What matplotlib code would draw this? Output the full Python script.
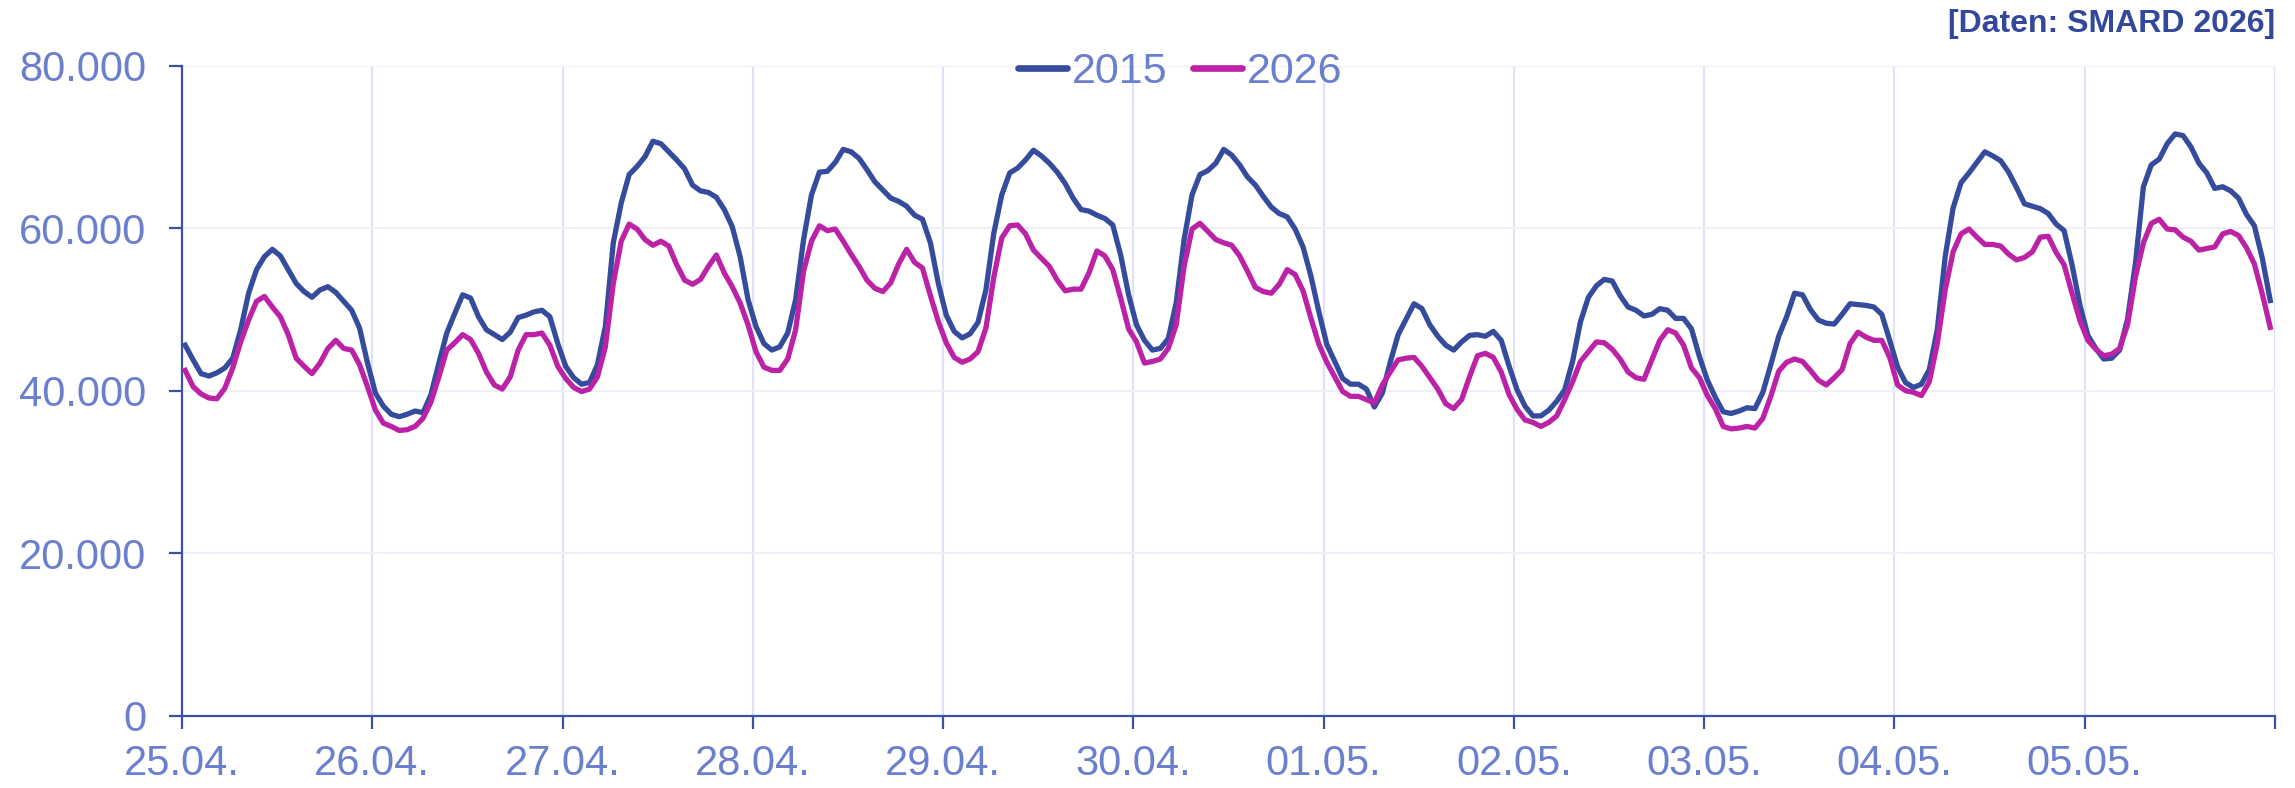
import matplotlib
matplotlib.use("Agg")
import matplotlib.pyplot as plt
from matplotlib.ticker import FuncFormatter, FixedLocator

# ---------------- data (hourly load, MW) ----------------
day_labels = ["25.04.", "26.04.", "27.04.", "28.04.", "29.04.", "30.04.",
              "01.05.", "02.05.", "03.05.", "04.05.", "05.05."]
series_names = ["2015", "2026"]

load_2015 = [
    45.6, 43.8, 42.1, 41.8, 42.2, 42.8, 44.0, 47.5, 52.0, 54.9, 56.5, 57.4, 56.6, 54.9, 53.2, 52.2, 51.5, 52.4, 52.8, 52.1, 51.0, 49.9, 47.7, 43.4,
    39.7, 38.1, 37.1, 36.8, 37.1, 37.5, 37.3, 39.5, 43.4, 47.1, 49.5, 51.8, 51.4, 49.1, 47.5, 46.9, 46.3, 47.2, 49.0, 49.3, 49.7, 49.9, 49.1, 45.8,
    43.0, 41.6, 40.8, 41.0, 43.2, 47.9, 58.2, 63.1, 66.6, 67.6, 68.8, 70.7, 70.4, 69.4, 68.4, 67.3, 65.3, 64.6, 64.4, 63.8, 62.3, 60.2, 56.5, 51.2,
    47.9, 45.8, 45.0, 45.4, 47.1, 51.2, 58.6, 64.1, 66.9, 67.0, 68.1, 69.7, 69.4, 68.6, 67.2, 65.7, 64.7, 63.7, 63.3, 62.7, 61.6, 61.1, 58.2, 53.2,
    49.3, 47.3, 46.5, 47.0, 48.4, 52.4, 59.4, 64.1, 66.8, 67.4, 68.4, 69.6, 68.9, 68.0, 66.9, 65.5, 63.7, 62.3, 62.1, 61.6, 61.2, 60.4, 56.7, 51.8,
    48.1, 46.2, 45.0, 45.2, 46.4, 50.8, 58.6, 64.1, 66.6, 67.1, 68.0, 69.7, 69.0, 67.8, 66.3, 65.3, 63.9, 62.6, 61.8, 61.4, 59.9, 57.7, 54.1, 49.7,
    45.7, 43.6, 41.5, 40.8, 40.8, 40.2, 38.0, 39.7, 43.5, 46.9, 48.8, 50.7, 50.1, 48.1, 46.7, 45.6, 45.0, 46.0, 46.8, 46.9, 46.7, 47.3, 46.2, 43.0,
    40.1, 38.1, 36.9, 36.9, 37.6, 38.7, 40.1, 43.6, 48.5, 51.5, 52.9, 53.7, 53.5, 51.7, 50.3, 49.9, 49.2, 49.4, 50.1, 49.9, 48.9, 48.9, 47.6, 44.2,
    41.3, 39.2, 37.4, 37.2, 37.5, 37.9, 37.8, 39.8, 43.2, 46.7, 49.1, 52.0, 51.8, 50.0, 48.7, 48.3, 48.2, 49.4, 50.7, 50.6, 50.5, 50.3, 49.4, 46.2,
    42.9, 41.0, 40.4, 40.8, 42.6, 47.5, 56.5, 62.5, 65.6, 66.8, 68.1, 69.4, 68.9, 68.3, 66.9, 65.0, 63.0, 62.7, 62.4, 61.8, 60.5, 59.7, 55.5, 50.5,
    46.8, 45.2, 43.9, 44.0, 45.0, 48.8, 55.7, 65.1, 67.8, 68.5, 70.4, 71.6, 71.4, 70.0, 68.0, 66.8, 64.9, 65.1, 64.6, 63.7, 61.7, 60.3, 56.3, 51.1,
]

load_2026 = [
    42.5, 40.5, 39.6, 39.1, 39.0, 40.3, 42.8, 46.0, 48.7, 51.0, 51.6, 50.3, 49.1, 46.9, 44.0, 43.0, 42.1, 43.4, 45.2, 46.2, 45.2, 45.0, 43.2, 40.5,
    37.6, 36.0, 35.6, 35.1, 35.2, 35.6, 36.6, 38.6, 41.7, 45.0, 45.9, 46.9, 46.3, 44.6, 42.3, 40.7, 40.2, 41.7, 45.0, 46.9, 46.9, 47.1, 45.6, 43.0,
    41.5, 40.4, 39.9, 40.2, 41.7, 45.4, 53.2, 58.4, 60.5, 59.9, 58.6, 57.9, 58.4, 57.8, 55.5, 53.6, 53.1, 53.7, 55.3, 56.7, 54.5, 52.8, 50.8, 48.1,
    44.8, 42.9, 42.5, 42.5, 43.9, 47.5, 54.7, 58.4, 60.3, 59.7, 59.9, 58.4, 56.8, 55.3, 53.6, 52.6, 52.2, 53.3, 55.6, 57.4, 55.8, 55.1, 51.7, 48.5,
    45.9, 44.1, 43.5, 43.9, 44.8, 47.7, 54.0, 58.8, 60.3, 60.4, 59.3, 57.3, 56.3, 55.3, 53.6, 52.3, 52.5, 52.5, 54.5, 57.2, 56.6, 54.9, 51.4, 47.6,
    46.0, 43.4, 43.6, 43.9, 45.2, 48.1, 55.3, 59.9, 60.6, 59.6, 58.6, 58.2, 57.9, 56.6, 54.7, 52.7, 52.2, 52.0, 53.1, 54.9, 54.3, 52.3, 48.9, 45.7,
    43.5, 41.7, 39.9, 39.3, 39.3, 38.9, 38.5, 40.7, 42.3, 43.8, 44.0, 44.1, 43.0, 41.6, 40.2, 38.4, 37.8, 38.9, 41.7, 44.3, 44.6, 44.1, 42.3, 39.5,
    37.7, 36.4, 36.1, 35.6, 36.1, 36.9, 38.9, 41.1, 43.6, 44.8, 46.0, 45.9, 45.1, 43.9, 42.3, 41.6, 41.4, 43.8, 46.2, 47.5, 47.1, 45.6, 42.8, 41.6,
    39.4, 37.8, 35.6, 35.3, 35.4, 35.6, 35.4, 36.6, 39.3, 42.4, 43.5, 43.9, 43.6, 42.5, 41.3, 40.7, 41.6, 42.6, 45.8, 47.2, 46.6, 46.2, 46.2, 44.1,
    40.7, 40.0, 39.8, 39.4, 41.1, 45.8, 52.4, 57.1, 59.3, 59.9, 58.9, 58.0, 58.0, 57.8, 56.8, 56.1, 56.4, 57.1, 58.9, 59.0, 57.0, 55.5, 52.0, 48.6,
    46.2, 45.1, 44.3, 44.5, 45.2, 48.1, 54.0, 58.2, 60.6, 61.1, 59.9, 59.8, 58.9, 58.4, 57.3, 57.5, 57.7, 59.3, 59.6, 59.1, 57.6, 55.6, 51.9, 47.8,
]

y_ticks = [0, 20000, 40000, 60000, 80000]
source_text = "[Daten: SMARD 2026]"

# ---------------- style ----------------
C_2015 = "#354b9c"
C_2026 = "#bb22a6"
C_AXIS = "#3d51a3"
C_TICKLBL = "#6b7fcf"
C_GRID_V = "#dde2f6"
C_GRID_H = "#eef0f8"

plt.rcParams["font.family"] = ["Liberation Sans", "DejaVu Sans"]

W, H, DPI = 2295, 788, 100
fig = plt.figure(figsize=(W / DPI, H / DPI), dpi=DPI)
ax = fig.add_axes([182 / W, 1 - 715.7 / H, (2275 - 182) / W, (715.7 - 65.7) / H])

hours = [i + 0.4 for i in range(len(load_2015))]
l1, = ax.plot(hours, [v * 1000 for v in load_2015], color=C_2015, lw=3.8,
              solid_joinstyle="round", label=series_names[0], zorder=3)
l2, = ax.plot(hours, [v * 1000 for v in load_2026], color=C_2026, lw=3.8,
              solid_joinstyle="round", label=series_names[1], zorder=4)

n_days = len(day_labels)
ax.set_xlim(0, 24 * n_days)
ax.set_ylim(0, 80000)

ax.xaxis.set_major_locator(FixedLocator([24 * i for i in range(n_days + 1)]))
ax.set_xticklabels(day_labels + [""])
ax.yaxis.set_major_locator(FixedLocator(y_ticks))
ax.yaxis.set_major_formatter(FuncFormatter(lambda v, p: f"{int(v):,}".replace(",", ".")))

for s in ["top", "right"]:
    ax.spines[s].set_visible(False)
for s in ["left", "bottom"]:
    ax.spines[s].set_color(C_AXIS)
    ax.spines[s].set_linewidth(1.6)

ax.tick_params(axis="x", direction="out", length=9.5, width=1.6, color=C_AXIS,
               labelsize=30, labelcolor=C_TICKLBL, pad=11)
ax.tick_params(axis="y", direction="out", length=9.5, width=1.6, color=C_AXIS,
               labelsize=30, labelcolor=C_TICKLBL, pad=16)

ax.xaxis.grid(True, color=C_GRID_V, lw=1.5, zorder=0)
ax.yaxis.grid(True, color=C_GRID_H, lw=1.5, zorder=0)
ax.set_axisbelow(True)

leg = fig.legend(handles=[l1, l2], loc="center", bbox_to_anchor=(1180 / W, 1 - 72 / H),
                 ncol=2, frameon=False, fontsize=31, handlelength=1.15,
                 handletextpad=0.1, columnspacing=0.6, borderpad=0, borderaxespad=0)
for t in leg.get_texts():
    t.set_color(C_TICKLBL)
for lh in leg.get_lines():
    lh.set_linewidth(4.8)
    lh.set_solid_capstyle("round")

fig.text(2275 / W, 1 - 32 / H, source_text, ha="right", va="baseline",
         fontsize=23, fontweight="bold", color="#33489b")

fig.savefig("out.png", dpi=DPI, facecolor="white")
